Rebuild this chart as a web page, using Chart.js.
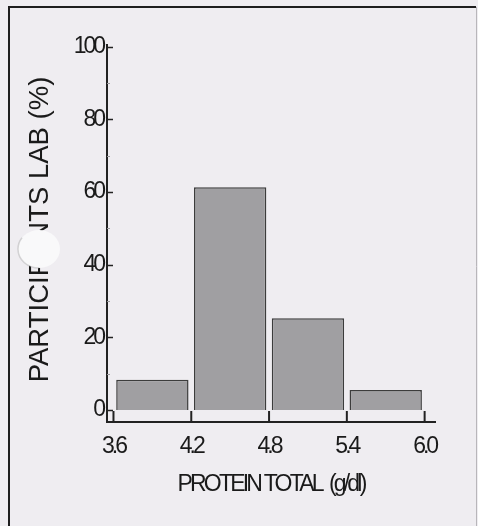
<!DOCTYPE html>
<html>
<head>
<meta charset="utf-8">
<script src="https://cdn.jsdelivr.net/npm/chart.js@4/dist/chart.umd.min.js"></script>
<style>
  html, body { margin: 0; padding: 0; background: #efedf1; }
  #wrap { width: 478px; height: 526px; position: relative; }
</style>
</head>
<body>
<div id="wrap"><canvas id="c" width="478" height="526"></canvas></div>
<script>
// ---- data ----
const binStarts = [3.6, 4.2, 4.8, 5.4];
const binEnds = [4.2, 4.8, 5.4, 6.0];
const percentParticipants = [8.3, 61.3, 25.3, 5.5];
const xTickValues = [3.6, 4.2, 4.8, 5.4, 6.0];
const yTickValues = [0, 10, 20, 30, 40, 50, 60, 70, 80, 90, 100];
const xTitle = 'PROTEIN TOTAL  (g/dl)';
const yTitle = 'PARTICIPANTS LAB (%)';

const points = binStarts.map((s, i) => ({ x: (s + binEnds[i]) / 2, y: percentParticipants[i] }));

const sans = "'Liberation Sans', Arial, sans-serif";

function patchTitle(scale, spacing, dy) {
  if (scale._patched) return;
  const orig = scale.drawTitle;
  scale.drawTitle = function () {
    const c = this.ctx;
    const prev = c.letterSpacing;
    c.save();
    c.letterSpacing = spacing;
    c.translate(0, dy);
    orig.apply(this, arguments);
    c.restore();
    c.letterSpacing = prev;
  };
  scale._patched = true;
}

const decor = {
  id: 'decor',
  afterLayout(chart) {
    patchTitle(chart.scales.y, '0px', -4);
    patchTitle(chart.scales.x, '-2.8px', 0);
  },
  beforeDraw(chart) {
    const ctx = chart.ctx;
    ctx.save();
    ctx.strokeStyle = '#1e1e1e';
    ctx.lineWidth = 2;
    ctx.beginPath();
    ctx.moveTo(9, 526);
    ctx.lineTo(9, 7);
    ctx.lineTo(476, 7);
    ctx.stroke();
    ctx.strokeStyle = '#b8b6ba';
    ctx.lineWidth = 1;
    ctx.beginPath();
    ctx.moveTo(476.5, 7);
    ctx.lineTo(476.5, 526);
    ctx.stroke();
    ctx.restore();
    ctx.letterSpacing = '-3px';
  },
  afterDraw(chart) {
    const ctx = chart.ctx;
    const xs = chart.scales.x;
    const ys = chart.scales.y;
    ctx.save();
    ctx.letterSpacing = '0px';
    // upward tick marks on the x axis
    ctx.strokeStyle = '#222';
    ctx.lineWidth = 2;
    const yb = ys.bottom;
    const y0 = ys.getPixelForValue(0);
    xTickValues.forEach(v => {
      const px = xs.getPixelForValue(v);
      ctx.beginPath();
      ctx.moveTo(px, yb);
      ctx.lineTo(px, y0 + 1);
      ctx.stroke();
    });
    // inward tick marks on the y axis
    const ax = xs.left;
    yTickValues.forEach(v => {
      const py = Math.round(ys.getPixelForValue(v)) + 0.5;
      const major = v % 20 === 0;
      ctx.strokeStyle = major ? '#222' : '#9a999c';
      ctx.lineWidth = major ? 1.5 : 1;
      ctx.beginPath();
      ctx.moveTo(ax, py);
      ctx.lineTo(ax + (major ? 6 : 3), py);
      ctx.stroke();
    });
    // hole-punch blot over the y title
    ctx.fillStyle = '#f9f9fa';
    ctx.beginPath();
    ctx.ellipse(39, 249, 21, 19, 0, 0, Math.PI * 2);
    ctx.fill();
    ctx.strokeStyle = 'rgba(150,150,150,0.35)';
    ctx.lineWidth = 1.5;
    ctx.beginPath();
    ctx.ellipse(39, 249, 21, 19, 0, Math.PI * 0.5, Math.PI * 1.2);
    ctx.stroke();
    ctx.restore();
  }
};

new Chart(document.getElementById('c'), {
  type: 'bar',
  data: {
    datasets: [{
      data: points,
      backgroundColor: '#a09fa2',
      borderColor: '#3c3c3c',
      borderWidth: 1.5,
      barPercentage: 0.93,
      categoryPercentage: 1.0
    }]
  },
  options: {
    responsive: false,
    animation: false,
    devicePixelRatio: 1,
    layout: { padding: { left: 0, top: 45, right: 43, bottom: 0 } },
    plugins: { legend: { display: false }, tooltip: { enabled: false } },
    scales: {
      x: {
        type: 'linear',
        min: 3.55,
        max: 6.08,
        offset: false,
        afterBuildTicks: s => { s.ticks = xTickValues.map(v => ({ value: v })); },
        afterFit: s => { s.height = 104; },
        grid: { display: false, drawTicks: false },
        border: { display: true, color: '#222', width: 2 },
        ticks: {
          padding: 11,
          color: '#1a1a1a',
          font: { family: sans, size: 23 },
          maxRotation: 0,
          autoSkip: false,
          callback: v => Number(v).toFixed(1)
        },
        title: {
          display: true,
          text: xTitle,
          color: '#1a1a1a',
          font: { family: sans, size: 23 },
          padding: { top: 0, bottom: 28 }
        }
      },
      y: {
        min: -3.3,
        max: 100.5,
        afterBuildTicks: s => { s.ticks = yTickValues.map(v => ({ value: v })); },
        afterFit: s => { s.width = 107; },
        grid: { display: false, drawTicks: false },
        border: { display: true, color: '#222', width: 2 },
        ticks: {
          padding: 4,
          color: '#1a1a1a',
          font: { family: sans, size: 23 },
          autoSkip: false,
          callback: v => (v % 20 === 0 ? String(v) : '')
        },
        title: {
          display: true,
          text: yTitle,
          color: '#1a1a1a',
          font: { family: sans, size: 27.5 },
          padding: { top: 24, bottom: 0 }
        }
      }
    }
  },
  plugins: [decor]
});
</script>
</body>
</html>
